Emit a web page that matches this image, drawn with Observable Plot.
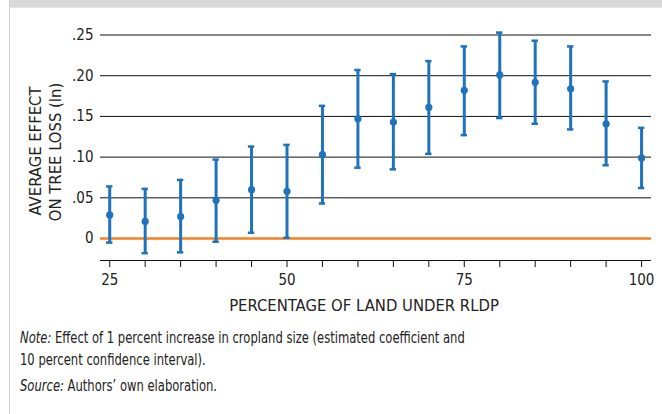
<!DOCTYPE html>
<html>
<head>
<meta charset="utf-8">
<script src="https://cdn.jsdelivr.net/npm/d3@7"></script>
<script src="https://cdn.jsdelivr.net/npm/@observablehq/plot@0.6"></script>
<style>
  html, body { margin: 0; padding: 0; background: #fff; }
  body { width: 662px; height: 414px; position: relative; overflow: hidden;
         font-family: "DejaVu Sans Condensed", "Liberation Sans Narrow", sans-serif; color: #222; }
  #topbar { position: absolute; left: 10px; top: 0; width: 652px; height: 7px; background: #d9d9d9; border-bottom: 1px solid #e6e6e6; }
  #leftline { position: absolute; left: 9px; top: 0; width: 1px; height: 414px; background: #d0d0d0; }
  #chart { position: absolute; left: 0; top: 0; }
  .ytitle { position: absolute; font-size: 16.5px; white-space: nowrap; transform: translate(-50%, -50%) rotate(-90deg); }
  #xtitle { position: absolute; left: 364px; top: 305px; transform: translate(-50%, -50%); font-size: 16.5px; white-space: nowrap; }
  #notes { position: absolute; left: 20px; top: 328px; font-size: 15.5px; line-height: 21.5px; white-space: nowrap;
           transform: scaleX(0.83); transform-origin: left top; }
  #notes p { margin: 0; }
  #notes p.src { margin-top: 5px; }
</style>
</head>
<body>
<div id="topbar"></div>
<div id="leftline"></div>
<div id="chart"></div>
<div class="ytitle" style="left:35px; top:151px;">AVERAGE EFFECT</div>
<div class="ytitle" style="left:55px; top:152px;">ON TREE LOSS (ln)</div>
<div id="xtitle">PERCENTAGE OF LAND UNDER RLDP</div>
<div id="notes">
  <p><i>Note:</i> Effect of 1 percent increase in cropland size (estimated coefficient and<br>10 percent confidence interval).</p>
  <p class="src"><i>Source:</i> Authors’ own elaboration.</p>
</div>
<script>
const pct   = [25, 30, 35, 40, 45, 50, 55, 60, 65, 70, 75, 80, 85, 90, 95, 100];
const coef  = [0.029, 0.021, 0.027, 0.047, 0.060, 0.058, 0.103, 0.147, 0.143, 0.161, 0.182, 0.201, 0.192, 0.184, 0.141, 0.099];
const lower = [-0.005, -0.018, -0.017, -0.004, 0.007, 0.001, 0.043, 0.087, 0.085, 0.104, 0.127, 0.148, 0.141, 0.134, 0.090, 0.062];
const upper = [0.064, 0.061, 0.072, 0.097, 0.113, 0.115, 0.163, 0.207, 0.202, 0.218, 0.236, 0.253, 0.243, 0.236, 0.193, 0.136];
const yTicks = [0, 0.05, 0.10, 0.15, 0.20, 0.25];
const xTicks = [25, 30, 35, 40, 45, 50, 55, 60, 65, 70, 75, 80, 85, 90, 95, 100];
const xLabels = [25, 50, 75, 100];

const data = pct.map((p, i) => ({pct: p, coef: coef[i], lo: lower[i], hi: upper[i], a: p - 0.45, b: p + 0.45}));
const blue = "#1f73bd";

const chart = Plot.plot({
  width: 662,
  height: 318,
  marginLeft: 100,
  marginRight: 11,
  marginTop: 28,
  marginBottom: 58,
  style: {fontFamily: '"DejaVu Sans Condensed", "Liberation Sans Narrow", sans-serif', fontSize: "15px", color: "#222", background: "transparent"},
  x: {domain: [23.7, 101.4], label: null},
  y: {domain: [-0.027, 0.258], label: null},
  marks: [
    Plot.gridY(yTicks.filter(d => d !== 0), {stroke: "#111", strokeOpacity: 1, strokeWidth: 1}),
    Plot.axisY(yTicks, {tickSize: 0, tickPadding: 7, fontSize: 15,
      tickFormat: d => d === 0 ? "0" : d3.format(".2f")(d).replace(/^0/, "")}),
    Plot.ruleY([0], {stroke: "#f5821f", strokeWidth: 2.5}),
    Plot.axisX(xTicks, {tickSize: 7, tickPadding: 7, fontSize: 15, stroke: "#111",
      tickFormat: d => xLabels.includes(d) ? String(d) : ""}),
    Plot.ruleY([-0.027], {stroke: "#111", strokeWidth: 1}),
    Plot.ruleX(data, {x: "pct", y1: "lo", y2: "hi", stroke: blue, strokeWidth: 3}),
    Plot.ruleY(data, {y: "hi", x1: "a", x2: "b", stroke: blue, strokeWidth: 2.5}),
    Plot.ruleY(data, {y: "lo", x1: "a", x2: "b", stroke: blue, strokeWidth: 2.5}),
    Plot.dot(data, {x: "pct", y: "coef", r: 3.6, fill: blue, stroke: "none"})
  ]
});
document.getElementById("chart").appendChild(chart);
</script>
</body>
</html>
